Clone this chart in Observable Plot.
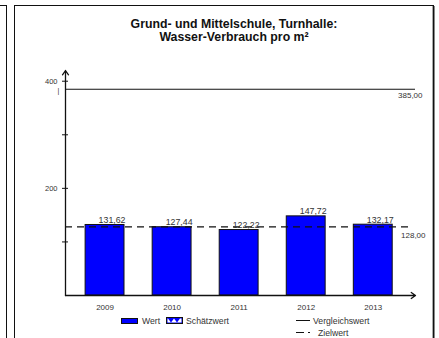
<!DOCTYPE html>
<html>
<head>
<meta charset="utf-8">
<script src="https://cdn.jsdelivr.net/npm/d3@7"></script>
<script src="https://cdn.jsdelivr.net/npm/@observablehq/plot@0.6"></script>
<style>
  html, body { margin: 0; padding: 0; background: #fff; }
  body { position: relative; width: 439px; height: 338px; overflow: hidden; font-family: "Liberation Sans", Arial, sans-serif; }
  #chart { position: absolute; left: 0; top: 0; }
  .abs { position: absolute; }
  #leftpanel { left: -20px; top: 5px; width: 25px; height: 400px; border: 1px solid #111; box-shadow: -1px 0 0 #999; }
  #frame { left: 14px; top: 5px; width: 418px; height: 400px; border: 1px solid #111; box-shadow: 1px 1px 0 #888, -1px 0 0 #aaa inset; }
  #title { left: 0; top: 18px; width: 468px; text-align: center; font-weight: bold; font-size: 12.3px; line-height: 13px; color: #111; }
  .leg { font-size: 8.7px; color: #333; line-height: 10px; white-space: nowrap; }
</style>
</head>
<body>
<div id="leftpanel" class="abs"></div>
<div id="chart"></div>
<div id="frame" class="abs"></div>
<div id="title" class="abs"></div>
<div id="legend"></div>
<script>
const titleLines = ["Grund- und Mittelschule, Turnhalle:", "Wasser-Verbrauch pro m²"];
const years = [2009, 2010, 2011, 2012, 2013];
const values = [131.62, 127.44, 122.22, 147.72, 132.17];
const vergleichswert = 385;
const zielwert = 128;
const yTicks = [100, 200, 300, 400];
const yLabelTicks = [200, 400];
const legendLabels = ["Wert", "Schätzwert", "Vergleichswert", "Zielwert"];

const fmt = v => v.toFixed(2).replace(".", ",");
const data = years.map((year, i) => ({year, value: values[i]}));
const half = 0.29;
const xDomain = [years[0] - 0.59, years[years.length - 1] + 0.63];
const yDomain = [0, 420];

document.getElementById("title").innerHTML = titleLines.join("<br>");

const chart = Plot.plot({
  width: 439,
  height: 320,
  marginLeft: 65,
  marginRight: 24,
  marginTop: 70,
  marginBottom: 25,
  style: {background: "transparent", fontFamily: "'Liberation Sans', Arial, sans-serif", fontSize: "8px", color: "#333"},
  x: {domain: xDomain, axis: null},
  y: {domain: yDomain, axis: null},
  marks: [
    Plot.rectY(data, {x1: d => d.year - half, x2: d => d.year + half, y: "value", fill: "#0000ff", stroke: "#111", strokeWidth: 1}),
    Plot.ruleY([vergleichswert], {x1: xDomain[0], x2: xDomain[1], stroke: "#111", strokeWidth: 1.2}),
    Plot.ruleY([zielwert], {x1: xDomain[0], x2: xDomain[1] - 0.05, stroke: "#111", strokeWidth: 1.2, strokeDasharray: "7,5"}),
    Plot.text([vergleichswert], {x: xDomain[1], y: d => d, text: d => fmt(d), textAnchor: "end", dx: 7, dy: 6, fontSize: 8, fill: "#333"}),
    Plot.text([zielwert], {x: xDomain[1], y: d => d, text: d => fmt(d), textAnchor: "end", dx: 10, dy: 9, fontSize: 8, fill: "#333"}),
    Plot.text([vergleichswert], {x: xDomain[0], y: d => d, text: () => "|", dx: -7, dy: 1, fontSize: 7, fill: "#333"}),
    Plot.text(data, {x: d => d.year + half, y: "value", text: d => fmt(d.value), textAnchor: "end", dx: 1, dy: -5, fontSize: 8.8, fill: "#333"}),
    Plot.axisX({ticks: years, tickSize: 0, tickPadding: 9, tickFormat: d => String(d), fontSize: 8, fill: "#333"}),
    Plot.axisY({ticks: yTicks, tickSize: 6, dx: 3, tickFormat: () => "", stroke: "#111"}),
    Plot.axisY({ticks: yLabelTicks, tickSize: 0, tickPadding: 8, tickFormat: d => String(d), fontSize: 7.5, fill: "#333"}),
    Plot.arrow([{x1: xDomain[0], y1: 0, x2: xDomain[0], y2: yDomain[1]}], {x1: "x1", y1: "y1", x2: "x2", y2: "y2", stroke: "#111", strokeWidth: 1.3, headLength: 6, headAngle: 70}),
    Plot.arrow([{x1: xDomain[0], y1: 0, x2: xDomain[1], y2: 0}], {x1: "x1", y1: "y1", x2: "x2", y2: "y2", stroke: "#111", strokeWidth: 1.3, headLength: 6, headAngle: 70})
  ]
});
document.getElementById("chart").appendChild(chart);

const legend = document.getElementById("legend");
legend.innerHTML = `
  <div class="abs" style="left:121px;top:318px;width:17px;height:6px;background:#0000ff;border:1px solid #111;box-sizing:border-box"></div>
  <div class="abs leg" style="left:142px;top:316px">${legendLabels[0]}</div>
  <svg class="abs" style="left:166px;top:317px" width="17" height="7">
    <rect x="0.5" y="0.5" width="16" height="6" fill="#0000ff" stroke="#111"/>
    <polygon points="2,1.5 5,5.5 8,1.5 11,5.5 14,1.5 15.5,1.5 15.5,5.5 1.5,5.5 1.5,1.5" fill="#fff"/>
  </svg>
  <div class="abs leg" style="left:186px;top:316px">${legendLabels[1]}</div>
  <div class="abs" style="left:296px;top:320px;width:14px;height:1.2px;background:#111"></div>
  <div class="abs leg" style="left:313px;top:316px">${legendLabels[2]}</div>
  <div class="abs" style="left:296px;top:332px;width:8px;height:1.2px;background:#111"></div>
  <div class="abs" style="left:308px;top:332px;width:2px;height:1.2px;background:#111"></div>
  <div class="abs leg" style="left:318px;top:328px">${legendLabels[3]}</div>
`;
</script>
</body>
</html>
